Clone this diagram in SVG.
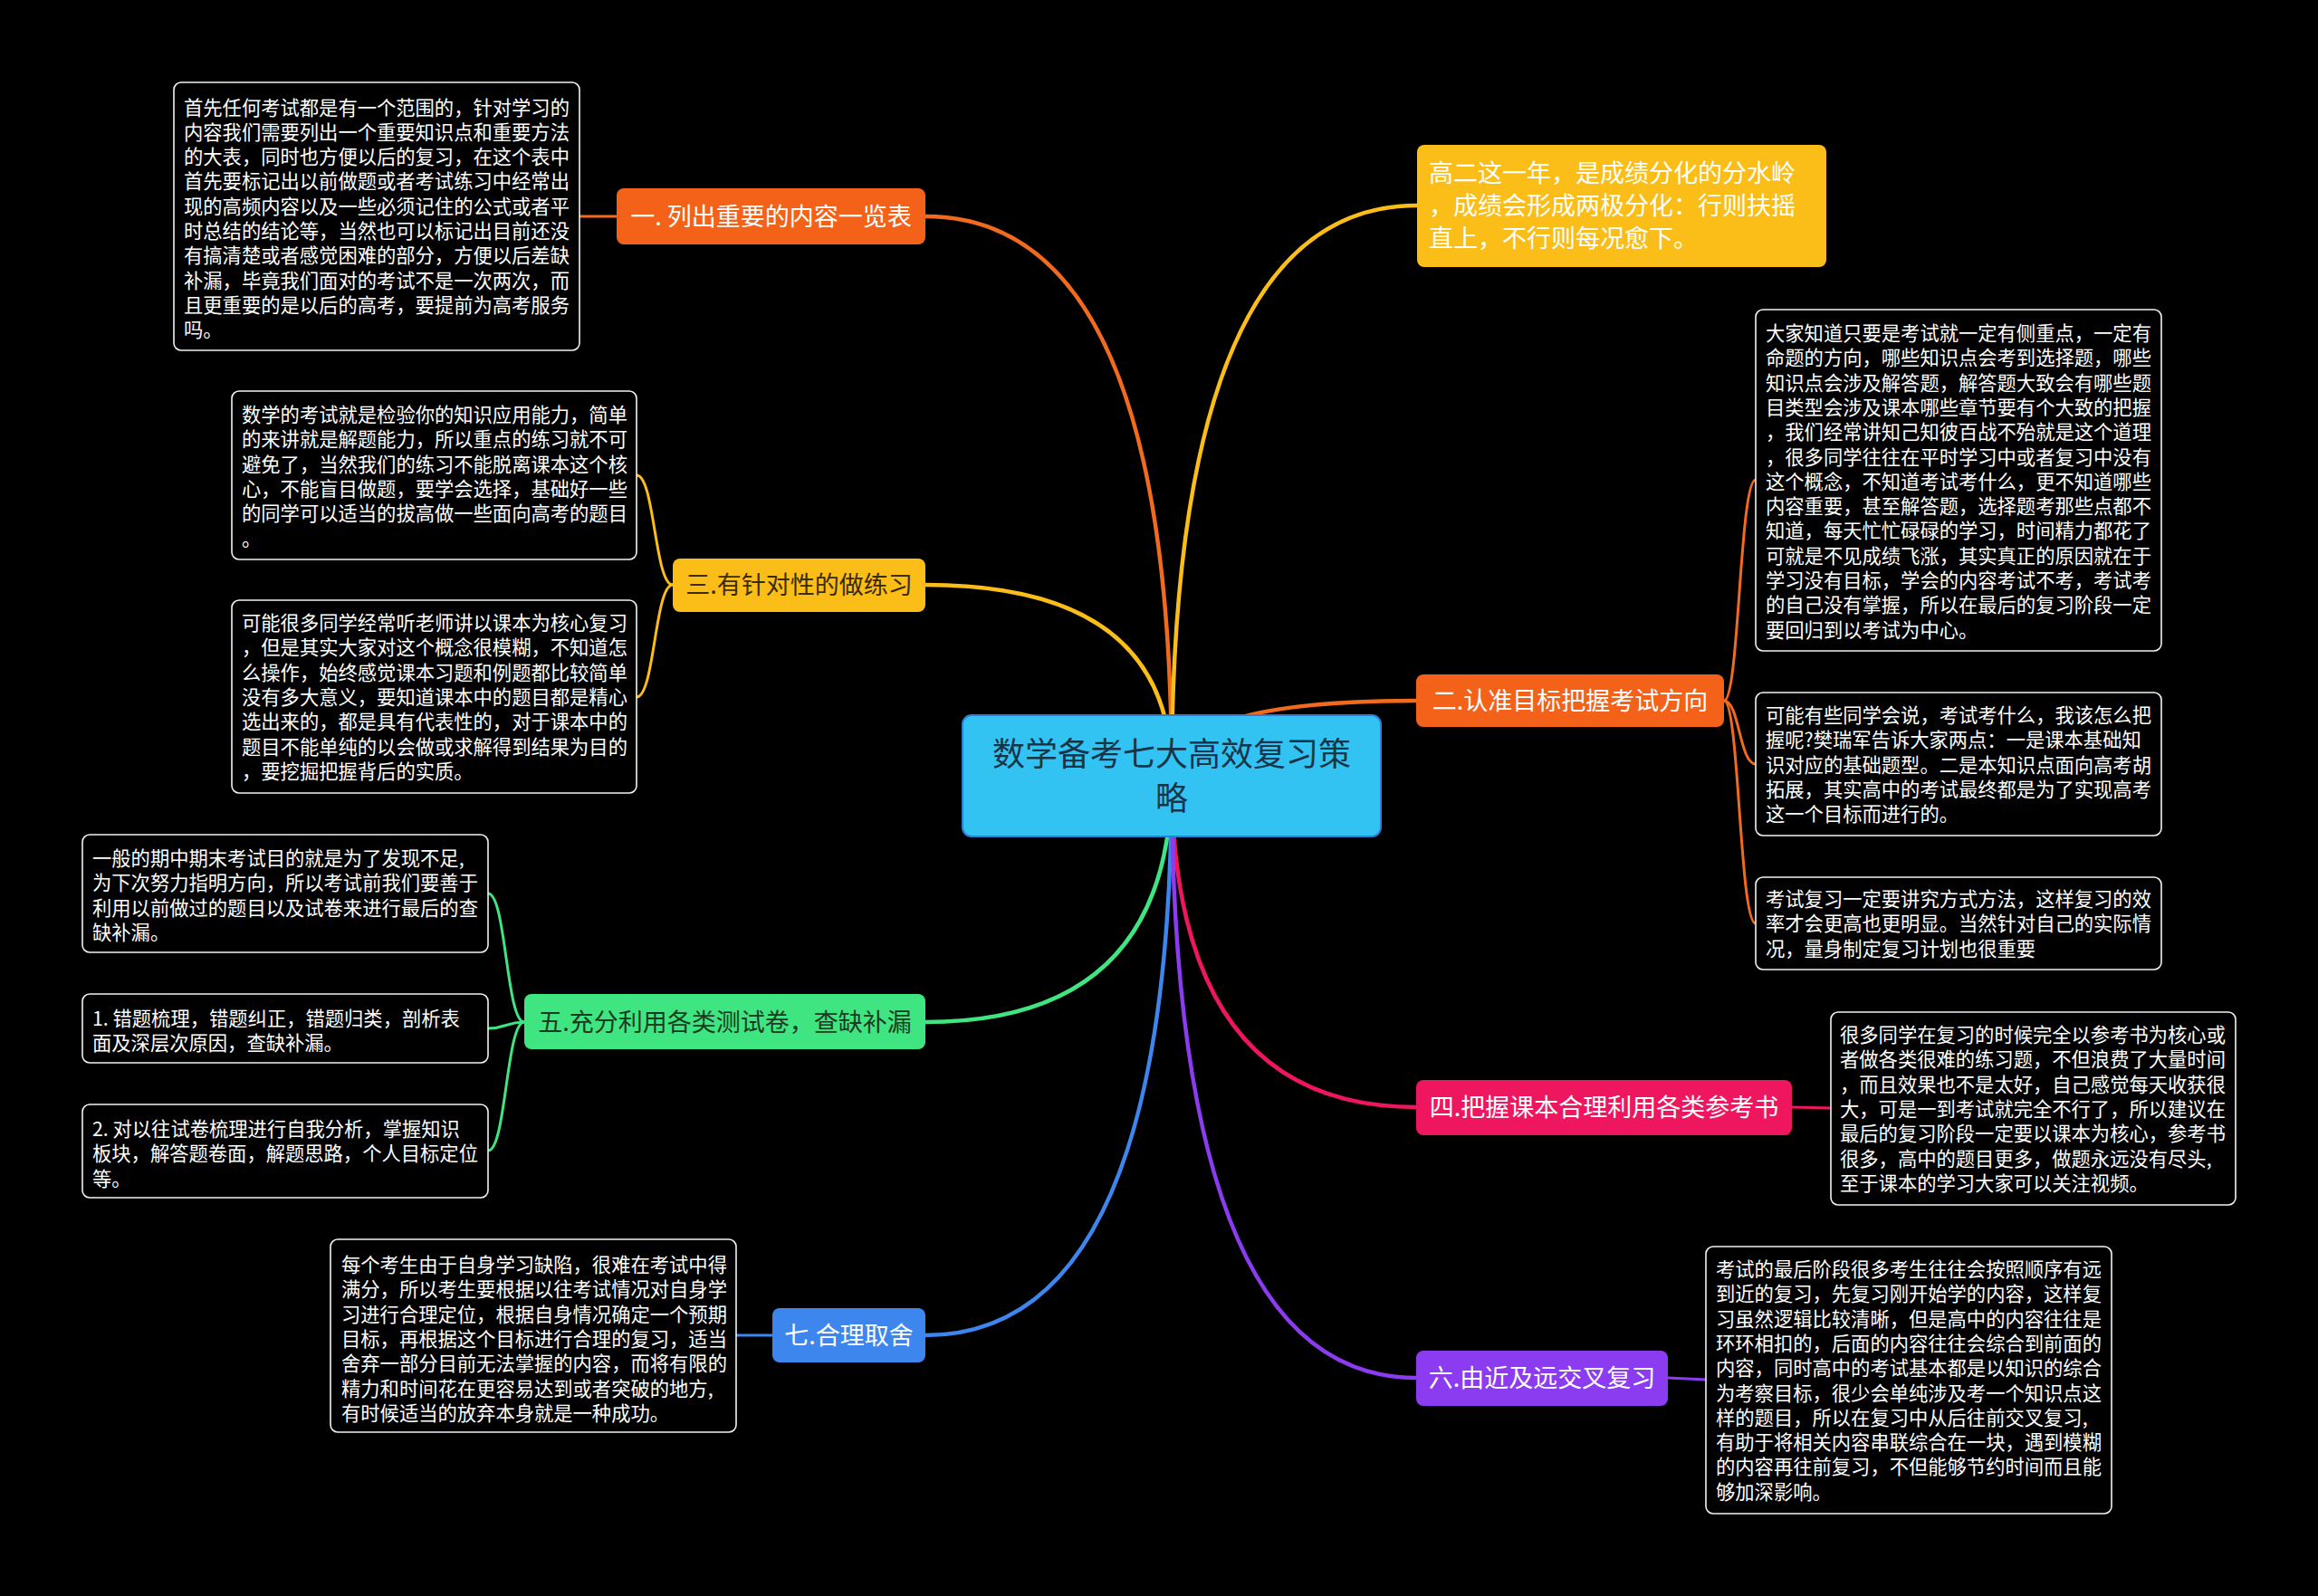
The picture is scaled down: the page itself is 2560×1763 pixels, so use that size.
<svg xmlns="http://www.w3.org/2000/svg" width="2560" height="1763" viewBox="0 0 2560 1763">
<style>
.bg{fill:#000}
.leafbox{fill:#000;stroke:#f2f2f2;stroke-width:1.6}
.leaf{font-family:"Noto Sans CJK SC","Noto Sans",sans-serif;font-size:21.3px;fill:#fff}
.btxt{font-family:"Noto Sans CJK SC","Noto Sans",sans-serif;font-size:27px;text-anchor:middle}
.main{fill:none;stroke-width:4.5;stroke-linecap:round}
.sub{fill:none;stroke-width:3;stroke-linecap:round}
.orange{stroke:#f26a1e}
.yellow{stroke:#fbbd18}
.green{stroke:#3fe580}
.blue{stroke:#3d86ee}
.pink{stroke:#ef1660}
.purple{stroke:#8b3cf0}
</style>
<rect class="bg" x="0" y="0" width="2560" height="1763"/>
<g id="connectors">
<path class="main orange" d="M1294 857 Q1294 239 1022 239"/>
<path class="main yellow" d="M1294 857 Q1294 646 1022 646"/>
<path class="main green" d="M1294 857 Q1294 1129 1022 1129"/>
<path class="main blue" d="M1294 857 Q1294 1475 1022 1475"/>
<path class="main yellow" d="M1294 857 Q1294 227 1565 227"/>
<path class="main orange" d="M1294 857 Q1294 774 1564 774"/>
<path class="main pink" d="M1294 857 Q1294 1223 1564 1223"/>
<path class="main purple" d="M1294 857 Q1294 1522 1564 1522"/>
<path class="sub orange" d="M681 239 L640 239"/>
<path class="sub yellow" d="M743 646 C723 646 723 525 703 525"/>
<path class="sub yellow" d="M743 646 C723 646 723 770 703 770"/>
<path class="sub green" d="M579 1129 C559 1129 559 987 539 987"/>
<path class="sub green" d="M579 1129 C559 1129 559 1136 539 1136"/>
<path class="sub green" d="M579 1129 C559 1129 559 1271 539 1271"/>
<path class="sub blue" d="M853 1475 L813 1475"/>
<path class="sub orange" d="M1904 774 C1921 774 1921 530 1939 530"/>
<path class="sub orange" d="M1904 774 C1921 774 1921 844 1939 844"/>
<path class="sub orange" d="M1904 774 C1921 774 1921 1020 1939 1020"/>
<path class="sub pink" d="M1979 1223 L2022 1224"/>
<path class="sub purple" d="M1842 1522 L1884 1524"/>
</g>
<g id="root">
<rect x="1063" y="790" width="462" height="134" rx="10" fill="#33c3f3" stroke="#2b7fd6" stroke-width="2"/>
<text class="btxt" x="1294" y="846" style="font-size:36px" fill="#173549"><tspan x="1294">数学备考七大高效复习策</tspan><tspan x="1294" dy="49">略</tspan></text>
</g>
<g id="b1">
<rect x="681" y="208" width="341" height="62" rx="8" fill="#f4621a"/>
<text class="btxt" x="851.5" y="249" fill="#fff">一. 列出重要的内容一览表</text>
</g>
<g id="b2">
<rect x="1565" y="160" width="452" height="135" rx="8" fill="#fbbd18"/>
<text class="leaf" x="1578" y="201" style="font-size:27px" fill="#3a2b00"><tspan x="1578">高二这一年，是成绩分化的分水岭</tspan><tspan x="1578" dy="36">，成绩会形成两极分化：行则扶摇</tspan><tspan x="1578" dy="36">直上，不行则每况愈下。</tspan></text>
</g>
<g id="b3">
<rect x="743" y="617" width="279" height="59" rx="8" fill="#fbbd18"/>
<text class="btxt" x="882.5" y="656" fill="#3a2b00">三.有针对性的做练习</text>
</g>
<g id="b4">
<rect x="1564" y="745" width="340" height="58" rx="8" fill="#f4621a"/>
<text class="btxt" x="1734" y="784" fill="#fff">二.认准目标把握考试方向</text>
</g>
<g id="b5">
<rect x="579" y="1098" width="443" height="61" rx="8" fill="#3fe580"/>
<text class="btxt" x="800.5" y="1139" fill="#1b3a22">五.充分利用各类测试卷，查缺补漏</text>
</g>
<g id="b6">
<rect x="1564" y="1193" width="415" height="61" rx="8" fill="#ef1660"/>
<text class="btxt" x="1771.5" y="1233" fill="#fff">四.把握课本合理利用各类参考书</text>
</g>
<g id="b7">
<rect x="853" y="1445" width="169" height="60" rx="8" fill="#3d86ee"/>
<text class="btxt" x="937.5" y="1485" fill="#fff">七.合理取舍</text>
</g>
<g id="b8">
<rect x="1564" y="1492" width="278" height="61" rx="8" fill="#8b3cf0"/>
<text class="btxt" x="1703" y="1532" fill="#fff">六.由近及远交叉复习</text>
</g>
<g id="leafA">
<rect class="leafbox" x="192" y="91" width="448" height="296" rx="8"/>
<text class="leaf" x="203" y="126.5"><tspan x="203">首先任何考试都是有一个范围的，针对学习的</tspan><tspan x="203" dy="27.3">内容我们需要列出一个重要知识点和重要方法</tspan><tspan x="203" dy="27.3">的大表，同时也方便以后的复习，在这个表中</tspan><tspan x="203" dy="27.3">首先要标记出以前做题或者考试练习中经常出</tspan><tspan x="203" dy="27.3">现的高频内容以及一些必须记住的公式或者平</tspan><tspan x="203" dy="27.3">时总结的结论等，当然也可以标记出目前还没</tspan><tspan x="203" dy="27.3">有搞清楚或者感觉困难的部分，方便以后差缺</tspan><tspan x="203" dy="27.3">补漏，毕竟我们面对的考试不是一次两次，而</tspan><tspan x="203" dy="27.3">且更重要的是以后的高考，要提前为高考服务</tspan><tspan x="203" dy="27.3">吗。</tspan></text>
</g>
<g id="leafB1">
<rect class="leafbox" x="256" y="432" width="447" height="186" rx="8"/>
<text class="leaf" x="267" y="466"><tspan x="267">数学的考试就是检验你的知识应用能力，简单</tspan><tspan x="267" dy="27.3">的来讲就是解题能力，所以重点的练习就不可</tspan><tspan x="267" dy="27.3">避免了，当然我们的练习不能脱离课本这个核</tspan><tspan x="267" dy="27.3">心，不能盲目做题，要学会选择，基础好一些</tspan><tspan x="267" dy="27.3">的同学可以适当的拔高做一些面向高考的题目</tspan><tspan x="267" dy="27.3">。</tspan></text>
</g>
<g id="leafB2">
<rect class="leafbox" x="256" y="663" width="447" height="213" rx="8"/>
<text class="leaf" x="267" y="696"><tspan x="267">可能很多同学经常听老师讲以课本为核心复习</tspan><tspan x="267" dy="27.3">，但是其实大家对这个概念很模糊，不知道怎</tspan><tspan x="267" dy="27.3">么操作，始终感觉课本习题和例题都比较简单</tspan><tspan x="267" dy="27.3">没有多大意义，要知道课本中的题目都是精心</tspan><tspan x="267" dy="27.3">选出来的，都是具有代表性的，对于课本中的</tspan><tspan x="267" dy="27.3">题目不能单纯的以会做或求解得到结果为目的</tspan><tspan x="267" dy="27.3">，要挖掘把握背后的实质。</tspan></text>
</g>
<g id="leafC1">
<rect class="leafbox" x="91" y="922" width="448" height="130" rx="8"/>
<text class="leaf" x="102" y="956"><tspan x="102">一般的期中期末考试目的就是为了发现不足,</tspan><tspan x="102" dy="27.3">为下次努力指明方向，所以考试前我们要善于</tspan><tspan x="102" dy="27.3">利用以前做过的题目以及试卷来进行最后的查</tspan><tspan x="102" dy="27.3">缺补漏。</tspan></text>
</g>
<g id="leafC2">
<rect class="leafbox" x="91" y="1098" width="448" height="76" rx="8"/>
<text class="leaf" x="102" y="1133"><tspan x="102">1. 错题梳理，错题纠正，错题归类，剖析表</tspan><tspan x="102" dy="27.3">面及深层次原因，查缺补漏。</tspan></text>
</g>
<g id="leafC3">
<rect class="leafbox" x="91" y="1220" width="448" height="103" rx="8"/>
<text class="leaf" x="102" y="1255"><tspan x="102">2. 对以往试卷梳理进行自我分析，掌握知识</tspan><tspan x="102" dy="27.3">板块，解答题卷面，解题思路，个人目标定位</tspan><tspan x="102" dy="27.3">等。</tspan></text>
</g>
<g id="leafD">
<rect class="leafbox" x="365" y="1369" width="448" height="213" rx="8"/>
<text class="leaf" x="377" y="1405"><tspan x="377">每个考生由于自身学习缺陷，很难在考试中得</tspan><tspan x="377" dy="27.3">满分，所以考生要根据以往考试情况对自身学</tspan><tspan x="377" dy="27.3">习进行合理定位，根据自身情况确定一个预期</tspan><tspan x="377" dy="27.3">目标，再根据这个目标进行合理的复习，适当</tspan><tspan x="377" dy="27.3">舍弃一部分目前无法掌握的内容，而将有限的</tspan><tspan x="377" dy="27.3">精力和时间花在更容易达到或者突破的地方,</tspan><tspan x="377" dy="27.3">有时候适当的放弃本身就是一种成功。</tspan></text>
</g>
<g id="leafE">
<rect class="leafbox" x="1939" y="342" width="448" height="377" rx="8"/>
<text class="leaf" x="1950" y="376"><tspan x="1950">大家知道只要是考试就一定有侧重点，一定有</tspan><tspan x="1950" dy="27.3">命题的方向，哪些知识点会考到选择题，哪些</tspan><tspan x="1950" dy="27.3">知识点会涉及解答题，解答题大致会有哪些题</tspan><tspan x="1950" dy="27.3">目类型会涉及课本哪些章节要有个大致的把握</tspan><tspan x="1950" dy="27.3">，我们经常讲知己知彼百战不殆就是这个道理</tspan><tspan x="1950" dy="27.3">，很多同学往往在平时学习中或者复习中没有</tspan><tspan x="1950" dy="27.3">这个概念，不知道考试考什么，更不知道哪些</tspan><tspan x="1950" dy="27.3">内容重要，甚至解答题，选择题考那些点都不</tspan><tspan x="1950" dy="27.3">知道，每天忙忙碌碌的学习，时间精力都花了</tspan><tspan x="1950" dy="27.3">可就是不见成绩飞涨，其实真正的原因就在于</tspan><tspan x="1950" dy="27.3">学习没有目标，学会的内容考试不考，考试考</tspan><tspan x="1950" dy="27.3">的自己没有掌握，所以在最后的复习阶段一定</tspan><tspan x="1950" dy="27.3">要回归到以考试为中心。</tspan></text>
</g>
<g id="leafF1">
<rect class="leafbox" x="1939" y="765" width="448" height="158" rx="8"/>
<text class="leaf" x="1950" y="798"><tspan x="1950">可能有些同学会说，考试考什么，我该怎么把</tspan><tspan x="1950" dy="27.3">握呢?樊瑞军告诉大家两点：一是课本基础知</tspan><tspan x="1950" dy="27.3">识对应的基础题型。二是本知识点面向高考胡</tspan><tspan x="1950" dy="27.3">拓展，其实高中的考试最终都是为了实现高考</tspan><tspan x="1950" dy="27.3">这一个目标而进行的。</tspan></text>
</g>
<g id="leafF2">
<rect class="leafbox" x="1939" y="969" width="448" height="102" rx="8"/>
<text class="leaf" x="1950" y="1001"><tspan x="1950">考试复习一定要讲究方式方法，这样复习的效</tspan><tspan x="1950" dy="27.3">率才会更高也更明显。当然针对自己的实际情</tspan><tspan x="1950" dy="27.3">况，量身制定复习计划也很重要</tspan></text>
</g>
<g id="leafG">
<rect class="leafbox" x="2022" y="1118" width="447" height="213" rx="8"/>
<text class="leaf" x="2032" y="1151"><tspan x="2032">很多同学在复习的时候完全以参考书为核心或</tspan><tspan x="2032" dy="27.3">者做各类很难的练习题，不但浪费了大量时间</tspan><tspan x="2032" dy="27.3">，而且效果也不是太好，自己感觉每天收获很</tspan><tspan x="2032" dy="27.3">大，可是一到考试就完全不行了，所以建议在</tspan><tspan x="2032" dy="27.3">最后的复习阶段一定要以课本为核心，参考书</tspan><tspan x="2032" dy="27.3">很多，高中的题目更多，做题永远没有尽头,</tspan><tspan x="2032" dy="27.3">至于课本的学习大家可以关注视频。</tspan></text>
</g>
<g id="leafH">
<rect class="leafbox" x="1884" y="1377" width="448" height="295" rx="8"/>
<text class="leaf" x="1895" y="1410"><tspan x="1895">考试的最后阶段很多考生往往会按照顺序有远</tspan><tspan x="1895" dy="27.3">到近的复习，先复习刚开始学的内容，这样复</tspan><tspan x="1895" dy="27.3">习虽然逻辑比较清晰，但是高中的内容往往是</tspan><tspan x="1895" dy="27.3">环环相扣的，后面的内容往往会综合到前面的</tspan><tspan x="1895" dy="27.3">内容，同时高中的考试基本都是以知识的综合</tspan><tspan x="1895" dy="27.3">为考察目标，很少会单纯涉及考一个知识点这</tspan><tspan x="1895" dy="27.3">样的题目，所以在复习中从后往前交叉复习,</tspan><tspan x="1895" dy="27.3">有助于将相关内容串联综合在一块，遇到模糊</tspan><tspan x="1895" dy="27.3">的内容再往前复习，不但能够节约时间而且能</tspan><tspan x="1895" dy="27.3">够加深影响。</tspan></text>
</g>
</svg>
